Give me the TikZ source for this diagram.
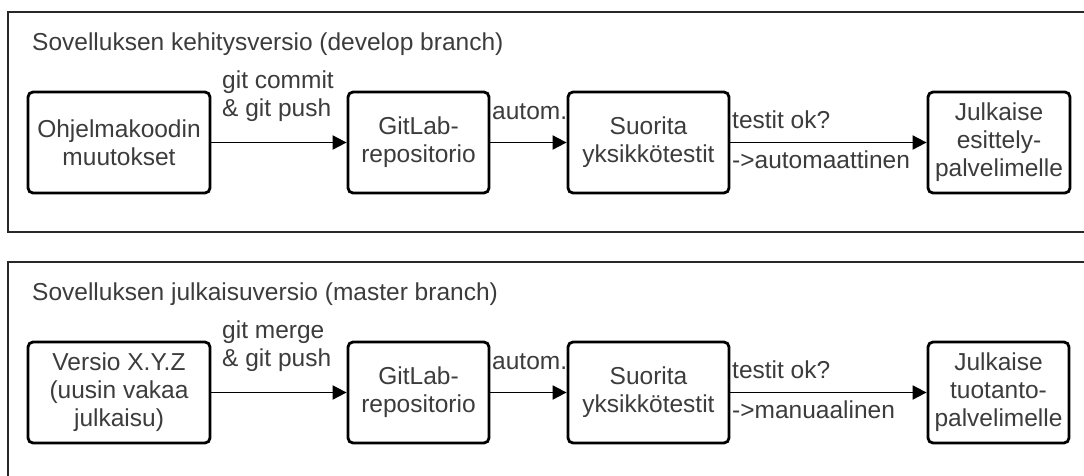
\documentclass[tikz,border=0pt]{standalone}
\usepackage{fontspec}
\setmainfont{Liberation Sans}
\usetikzlibrary{arrows.meta}
\definecolor{txt}{RGB}{60,60,60}
\definecolor{frameclr}{RGB}{40,40,40}
\tikzset{
  lane/.style={draw=frameclr, line width=1.8pt},
  stepbox/.style={draw=black, line width=2.8pt, rounded corners=5pt, fill=white,
    align=center, text=txt, inner sep=0pt, font=\fontsize{24.5}{28}\selectfont},
  lbl/.style={anchor=base west, inner sep=0pt, text=txt, align=left,
    font=\fontsize{24.5}{28}\selectfont},
  flow/.style={draw=black, line width=1.9pt, -{Triangle[length=14pt,width=14pt]}}
}
\begin{document}
\begin{tikzpicture}[x=1pt,y=-1pt]
\useasboundingbox (0,0) rectangle (1084,475);
\fill[white] (0,0) rectangle (1084,475);

% lanes (cut off at the right and bottom page edges)
\draw[lane] (8,12) rectangle (1095,232);
\draw[lane] (8,262) rectangle (1095,490);

\node[lbl] (t1) at (32,50) {Sovelluksen kehitysversio (develop branch)};
\node[lbl] (t2) at (32,300) {Sovelluksen julkaisuversio (master branch)};

% develop branch
\node[stepbox, minimum width=182pt, minimum height=101pt] (a1) at (119,142.5) {Ohjelmakoodin\\muutokset};
\node[stepbox, minimum width=141pt, minimum height=101pt] (a2) at (418.5,142.5) {GitLab-\\repositorio};
\node[stepbox, minimum width=161pt, minimum height=101pt] (a3) at (648.5,142.5) {Suorita\\yksikkötestit};
\node[stepbox, minimum width=142pt, minimum height=101pt] (a4) at (999,142.5) {Julkaise\\esittely-\\palvelimelle};

\draw[flow] (a1) -- (a2);
\draw[flow] (a2) -- (a3);
\draw[flow] (a3) -- (a4);

% the base of a two-line label is its last line
\node[lbl] (l1) at (222,116) {git commit\\\& git push};
\node[lbl] (l2) at (492,119) {autom.};
\node[lbl] (l3) at (732,128) {testit ok?};
\node[lbl] (l4) at (732,168) {->automaattinen};

% master branch
\node[stepbox, minimum width=182pt, minimum height=101pt] (b1) at (119,392.5) {Versio X.Y.Z\\(uusin vakaa\\julkaisu)};
\node[stepbox, minimum width=141pt, minimum height=101pt] (b2) at (418.5,392.5) {GitLab-\\repositorio};
\node[stepbox, minimum width=161pt, minimum height=101pt] (b3) at (648.5,392.5) {Suorita\\yksikkötestit};
\node[stepbox, minimum width=141pt, minimum height=101pt] (b4) at (998.5,392.5) {Julkaise\\tuotanto-\\palvelimelle};

\draw[flow] (b1) -- (b2);
\draw[flow] (b2) -- (b3);
\draw[flow] (b3) -- (b4);

\node[lbl] (m1) at (222,366) {git merge\\\& git push};
\node[lbl] (m2) at (492,369) {autom.};
\node[lbl] (m3) at (732,378) {testit ok?};
\node[lbl] (m4) at (732,418) {->manuaalinen};
\end{tikzpicture}
\end{document}
